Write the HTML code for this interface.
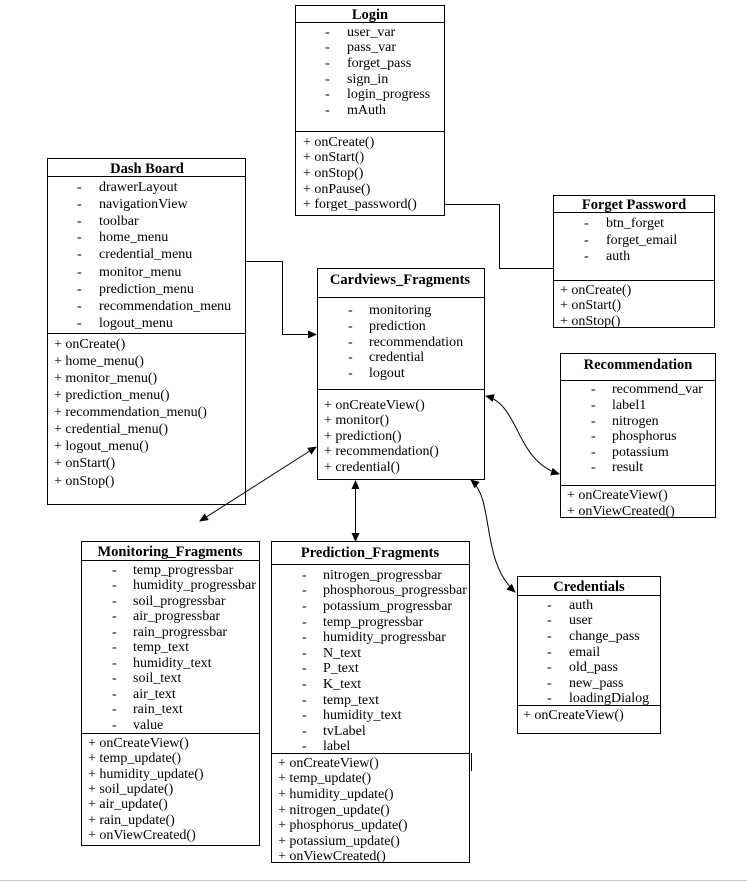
<!DOCTYPE html>
<html><head><meta charset="utf-8"><style>
html,body{margin:0;padding:0;background:#fff;}
svg{display:block;}
text{font-family:"Liberation Serif",serif;font-size:14px;fill:#000;}
.b{font-weight:bold;font-size:14.5px;}
</style></head><body>
<svg width="747" height="882" viewBox="0 0 747 882" xmlns="http://www.w3.org/2000/svg">
<defs>
<marker id="a" markerWidth="10" markerHeight="10" refX="8" refY="4" orient="auto-start-reverse" markerUnits="userSpaceOnUse"><path d="M0,0 L9,4 L0,8 z" fill="#000"/></marker>
</defs>
<g fill="none" stroke="#000" stroke-width="1">
<rect x="295.5" y="5.5" width="149" height="210"/><line x1="295" y1="22.5" x2="444" y2="22.5"/><line x1="295" y1="131.5" x2="444" y2="131.5"/>
<rect x="47.5" y="158.5" width="198" height="346"/><line x1="47" y1="176.5" x2="245" y2="176.5"/><line x1="47" y1="333.5" x2="245" y2="333.5"/>
<rect x="317.5" y="268.5" width="167" height="211"/><line x1="317" y1="297.5" x2="484" y2="297.5"/><line x1="317" y1="389.5" x2="484" y2="389.5"/>
<rect x="553.5" y="195.5" width="161" height="132"/><line x1="553" y1="212.5" x2="714" y2="212.5"/><line x1="553" y1="280.5" x2="714" y2="280.5"/>
<rect x="560.5" y="353.5" width="155" height="164"/><line x1="560" y1="380.5" x2="715" y2="380.5"/><line x1="560" y1="485.5" x2="715" y2="485.5"/>
<rect x="81.5" y="541.5" width="178" height="304"/><line x1="81" y1="560.5" x2="259" y2="560.5"/><line x1="81" y1="733.5" x2="259" y2="733.5"/>
<rect x="271.5" y="541.5" width="198" height="321"/><line x1="271" y1="564.5" x2="469" y2="564.5"/><line x1="271" y1="753.5" x2="469" y2="753.5"/>
<line x1="471.5" y1="753" x2="471.5" y2="771"/>
<rect x="517.5" y="576.5" width="143" height="157"/><line x1="517" y1="595.5" x2="660" y2="595.5"/><line x1="517" y1="705.5" x2="660" y2="705.5"/>
<polyline points="444,204.5 499.5,204.5 499.5,268.5 553,268.5"/>
<polyline points="245,261.5 282.5,261.5 282.5,334.5 316,334.5" marker-end="url(#a)"/>
<line x1="316" y1="447" x2="200" y2="521" marker-start="url(#a)" marker-end="url(#a)"/>
<line x1="355.5" y1="481" x2="355.5" y2="541" marker-start="url(#a)" marker-end="url(#a)"/>
<path d="M471,480 C495,500 480,560 515,592" marker-start="url(#a)" marker-end="url(#a)"/>
<path d="M486,396 C520,405 515,460 559,474" marker-start="url(#a)" marker-end="url(#a)"/>
</g>
<line x1="0" y1="880.5" x2="747" y2="880.5" stroke="#ccc" stroke-width="1"/>

<text class="b" x="370" y="19" text-anchor="middle">Login</text>
<g>
<text x="325" y="36">-</text><text x="347" y="36">user_var</text>
<text x="325" y="51">-</text><text x="347" y="51">pass_var</text>
<text x="325" y="67">-</text><text x="347" y="67">forget_pass</text>
<text x="325" y="83">-</text><text x="347" y="83">sign_in</text>
<text x="325" y="98">-</text><text x="347" y="98">login_progress</text>
<text x="325" y="114">-</text><text x="347" y="114">mAuth</text>
<text x="303" y="146">+ onCreate()</text>
<text x="303" y="161">+ onStart()</text>
<text x="303" y="177">+ onStop()</text>
<text x="303" y="193">+ onPause()</text>
<text x="303" y="208">+ forget_password()</text>
</g>
<text class="b" x="147" y="173" text-anchor="middle">Dash Board</text>
<g>
<text x="77" y="191">-</text><text x="99" y="191">drawerLayout</text>
<text x="77" y="208">-</text><text x="99" y="208">navigationView</text>
<text x="77" y="225">-</text><text x="99" y="225">toolbar</text>
<text x="77" y="241">-</text><text x="99" y="241">home_menu</text>
<text x="77" y="258">-</text><text x="99" y="258">credential_menu</text>
<text x="77" y="276">-</text><text x="99" y="276">monitor_menu</text>
<text x="77" y="293">-</text><text x="99" y="293">prediction_menu</text>
<text x="77" y="310">-</text><text x="99" y="310">recommendation_menu</text>
<text x="77" y="327">-</text><text x="99" y="327">logout_menu</text>
<text x="54" y="348">+ onCreate()</text>
<text x="54" y="365">+ home_menu()</text>
<text x="54" y="382">+ monitor_menu()</text>
<text x="54" y="399">+ prediction_menu()</text>
<text x="54" y="416">+ recommendation_menu()</text>
<text x="54" y="433">+ credential_menu()</text>
<text x="54" y="450">+ logout_menu()</text>
<text x="54" y="467">+ onStart()</text>
<text x="54" y="485">+ onStop()</text>
</g>
<text class="b" x="400" y="284" text-anchor="middle">Cardviews_Fragments</text>
<text x="348" y="314">-</text><text x="369" y="314">monitoring</text>
<text x="348" y="330">-</text><text x="369" y="330">prediction</text>
<text x="348" y="346">-</text><text x="369" y="346">recommendation</text>
<text x="348" y="361">-</text><text x="369" y="361">credential</text>
<text x="348" y="377">-</text><text x="369" y="377">logout</text>
<text x="324" y="409">+ onCreateView()</text>
<text x="324" y="424">+ monitor()</text>
<text x="324" y="440">+ prediction()</text>
<text x="324" y="455">+ recommendation()</text>
<text x="324" y="471">+ credential()</text>
<text class="b" x="634" y="209" text-anchor="middle">Forget Password</text>
<text x="584" y="227">-</text><text x="606" y="227">btn_forget</text>
<text x="584" y="244">-</text><text x="606" y="244">forget_email</text>
<text x="584" y="260">-</text><text x="606" y="260">auth</text>
<text x="560" y="294">+ onCreate()</text>
<text x="560" y="309">+ onStart()</text>
<text x="560" y="325">+ onStop()</text>
<text class="b" x="638" y="369" text-anchor="middle">Recommendation</text>
<text x="591" y="393">-</text><text x="612" y="393">recommend_var</text>
<text x="591" y="409">-</text><text x="612" y="409">label1</text>
<text x="591" y="425">-</text><text x="612" y="425">nitrogen</text>
<text x="591" y="440">-</text><text x="612" y="440">phosphorus</text>
<text x="591" y="456">-</text><text x="612" y="456">potassium</text>
<text x="591" y="471">-</text><text x="612" y="471">result</text>
<text x="567" y="499">+ onCreateView()</text>
<text x="567" y="515">+ onViewCreated()</text>
<text class="b" x="170" y="556" text-anchor="middle">Monitoring_Fragments</text>
<g>
<text x="112" y="574">-</text><text x="133" y="574">temp_progressbar</text>
<text x="112" y="589">-</text><text x="133" y="589">humidity_progressbar</text>
<text x="112" y="605">-</text><text x="133" y="605">soil_progressbar</text>
<text x="112" y="620">-</text><text x="133" y="620">air_progressbar</text>
<text x="112" y="636">-</text><text x="133" y="636">rain_progressbar</text>
<text x="112" y="651">-</text><text x="133" y="651">temp_text</text>
<text x="112" y="667">-</text><text x="133" y="667">humidity_text</text>
<text x="112" y="682">-</text><text x="133" y="682">soil_text</text>
<text x="112" y="698">-</text><text x="133" y="698">air_text</text>
<text x="112" y="713">-</text><text x="133" y="713">rain_text</text>
<text x="112" y="729">-</text><text x="133" y="729">value</text>
<text x="88" y="747">+ onCreateView()</text>
<text x="88" y="762">+ temp_update()</text>
<text x="88" y="778">+ humidity_update()</text>
<text x="88" y="793">+ soil_update()</text>
<text x="88" y="808">+ air_update()</text>
<text x="88" y="824">+ rain_update()</text>
<text x="88" y="839">+ onViewCreated()</text>
</g>
<text class="b" x="370" y="557" text-anchor="middle">Prediction_Fragments</text>
<g>
<text x="302" y="579">-</text><text x="323" y="579">nitrogen_progressbar</text>
<text x="302" y="594">-</text><text x="323" y="594">phosphorous_progressbar</text>
<text x="302" y="610">-</text><text x="323" y="610">potassium_progressbar</text>
<text x="302" y="626">-</text><text x="323" y="626">temp_progressbar</text>
<text x="302" y="641">-</text><text x="323" y="641">humidity_progressbar</text>
<text x="302" y="657">-</text><text x="323" y="657">N_text</text>
<text x="302" y="672">-</text><text x="323" y="672">P_text</text>
<text x="302" y="688">-</text><text x="323" y="688">K_text</text>
<text x="302" y="704">-</text><text x="323" y="704">temp_text</text>
<text x="302" y="719">-</text><text x="323" y="719">humidity_text</text>
<text x="302" y="735">-</text><text x="323" y="735">tvLabel</text>
<text x="302" y="750">-</text><text x="323" y="750">label</text>
<text x="278" y="767">+ onCreateView()</text>
<text x="278" y="782">+ temp_update()</text>
<text x="278" y="798">+ humidity_update()</text>
<text x="278" y="814">+ nitrogen_update()</text>
<text x="278" y="829">+ phosphorus_update()</text>
<text x="278" y="845">+ potassium_update()</text>
<text x="278" y="860">+ onViewCreated()</text>
</g>
<text class="b" x="589" y="591" text-anchor="middle">Credentials</text>
<text x="547" y="609">-</text><text x="569" y="609">auth</text>
<text x="547" y="624">-</text><text x="569" y="624">user</text>
<text x="547" y="640">-</text><text x="569" y="640">change_pass</text>
<text x="547" y="656">-</text><text x="569" y="656">email</text>
<text x="547" y="671">-</text><text x="569" y="671">old_pass</text>
<text x="547" y="687">-</text><text x="569" y="687">new_pass</text>
<text x="547" y="702">-</text><text x="569" y="702">loadingDialog</text>
<text x="523" y="719">+ onCreateView()</text>
</svg>
</body></html>
